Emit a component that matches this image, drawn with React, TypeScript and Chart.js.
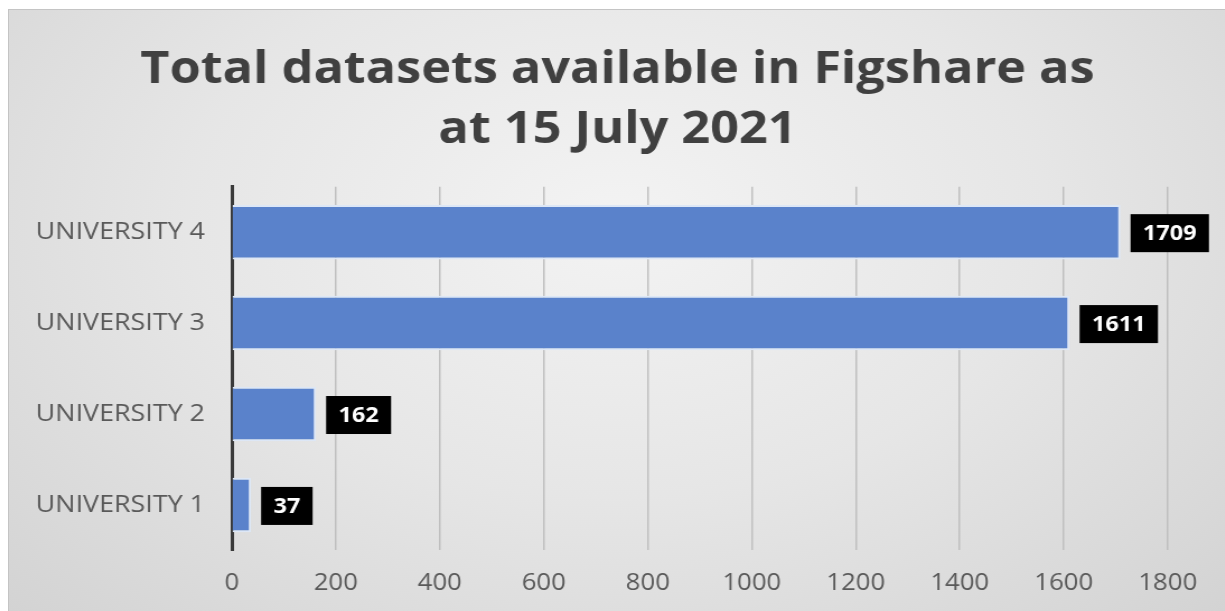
import React, { useEffect, useRef } from "react";
import { Chart, registerables } from "chart.js";

Chart.register(...registerables);

const titleLines = ["Total datasets available in Figshare as", "at 15 July 2021"];
const categories = ["UNIVERSITY 4", "UNIVERSITY 3", "UNIVERSITY 2", "UNIVERSITY 1"];
const datasetCounts = [1709, 1611, 162, 37];
const xMin = 0;
const xMax = 1800;
const xStep = 200;

const STRETCH = 1.12;
const OUTER_W = 1217;
const OUTER_H = 602;
const INNER_W = Math.round(OUTER_W / STRETCH);
const INNER_H = OUTER_H - 1;

const labelBoxPlugin = {
  id: "labelBoxes",
  afterDatasetsDraw(chart: any) {
    const ctx = chart.ctx;
    const meta = chart.getDatasetMeta(0);
    const data = chart.data.datasets[0].data;
    ctx.save();
    ctx.font = 'bold 21px "Open Sans", sans-serif';
    ctx.textBaseline = "middle";
    ctx.textAlign = "left";
    meta.data.forEach((bar: any, i: number) => {
      const text = String(data[i]);
      const tw = ctx.measureText(text).width;
      const padX = 11;
      const h = 38;
      const bx = bar.x + 9;
      const by = bar.y - h / 2 + 1;
      ctx.fillStyle = "#000000";
      ctx.fillRect(bx, by, tw + padX * 2, h);
      ctx.fillStyle = "#ffffff";
      ctx.fillText(text, bx + padX, bar.y + 2);
    });
    ctx.restore();
  },
};

export default function App() {
  const canvasRef = useRef<HTMLCanvasElement | null>(null);

  useEffect(() => {
    if (!canvasRef.current) return;
    const chart = new Chart(canvasRef.current, {
      type: "bar",
      data: {
        labels: categories,
        datasets: [
          {
            data: datasetCounts,
            backgroundColor: "#5A82CB",
            borderColor: "#DDE7F6",
            borderWidth: 2,
            categoryPercentage: 1,
            barPercentage: 0.6,
          },
        ],
      },
      plugins: [labelBoxPlugin],
      options: {
        indexAxis: "y",
        animation: false,
        responsive: false,
        maintainAspectRatio: false,
        layout: { padding: { left: 0, right: 0, top: 0, bottom: -5 } },
        plugins: {
          legend: { display: false },
          tooltip: { enabled: false },
          title: {
            display: true,
            text: titleLines,
            color: "#404040",
            font: { family: '"Open Sans", sans-serif', size: 45, weight: "bold", lineHeight: 1.33 },
            padding: { top: 30, bottom: 27 },
          },
        },
        scales: {
          x: {
            min: xMin,
            max: xMax,
            border: { display: false },
            grid: { color: "#BFBFBF", lineWidth: 1.5, drawTicks: false },
            ticks: {
              stepSize: xStep,
              color: "#595959",
              padding: 19,
              maxRotation: 0,
              font: { family: '"Open Sans", sans-serif', size: 23 },
              callback: (v: any) => String(v),
            },
          },
          y: {
            border: { display: true, color: "#3A3A3A", width: 3 },
            grid: { display: false, drawTicks: false },
            afterFit: (scale: any) => {
              scale.width = 199;
            },
            ticks: {
              color: "#595959",
              padding: 24,
              font: { family: '"Open Sans", sans-serif', size: 24 },
            },
          },
          rightSpacer: {
            type: "linear",
            position: "right",
            display: true,
            grid: { display: false, drawTicks: false },
            border: { display: false },
            ticks: { display: false },
            afterFit: (scale: any) => {
              scale.width = 52;
            },
          },
        },
      },
    });
    return () => chart.destroy();
  }, []);

  return (
    <div
      style={{
        position: "fixed",
        left: 8,
        top: 9,
        width: OUTER_W,
        height: OUTER_H,
        overflow: "hidden",
        borderTop: "1px solid #c4c4c4",
        borderLeft: "1px solid #c4c4c4",
        boxSizing: "border-box",
        background: "radial-gradient(ellipse at 50% 35%, #f3f3f3 0%, #e6e6e6 50%, #d3d3d3 100%)",
      }}
    >
      <div
        style={{
          position: "absolute",
          left: 0,
          top: 0,
          width: INNER_W,
          height: INNER_H,
          transform: `scaleX(${OUTER_W / INNER_W})`,
          transformOrigin: "0 0",
        }}
      >
        <canvas ref={canvasRef} width={INNER_W} height={INNER_H} style={{ display: "block" }} />
      </div>
    </div>
  );
}
